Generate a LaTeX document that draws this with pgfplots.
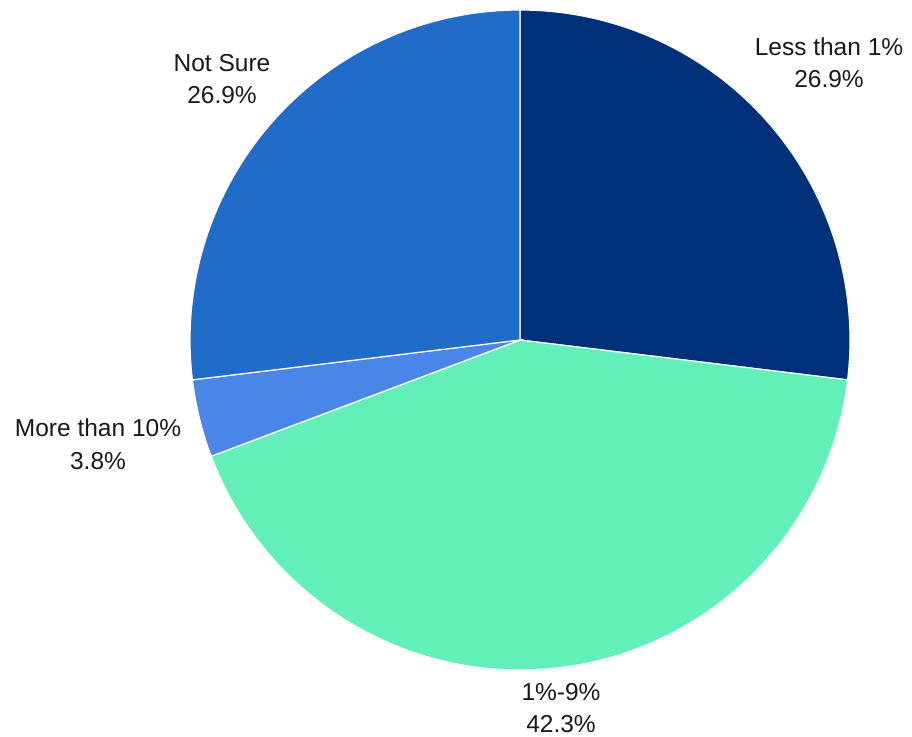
\documentclass[border=0pt]{standalone}
\usepackage{pgfplots}
\pgfplotsset{compat=1.18}
\usepackage{fontspec}
\setmainfont{Liberation Sans}
\definecolor{cLess}{RGB}{0,48,122}
\definecolor{cMid}{RGB}{98,240,184}
\definecolor{cMore}{RGB}{74,134,232}
\definecolor{cNot}{RGB}{33,108,200}
\definecolor{txt}{RGB}{25,25,25}
\tikzset{lbl/.style={anchor=base, inner sep=0pt, text=txt, font=\fontsize{24.5}{30}\selectfont}}
% slice values (percent), clockwise from 12 o'clock
\def\vA{26.9}% Less than 1%
\def\vB{42.3}% 1%-9%
\def\vC{3.8}%  More than 10%
\def\vD{26.9}% Not Sure
\pgfmathsetmacro{\tot}{\vA+\vB+\vC+\vD}
\pgfmathsetmacro{\aO}{90}
\pgfmathsetmacro{\aA}{90-360*\vA/\tot}
\pgfmathsetmacro{\aB}{\aA-360*\vB/\tot}
\pgfmathsetmacro{\aC}{\aB-360*\vC/\tot}
\pgfmathsetmacro{\aD}{-270}
\def\cx{520}\def\cy{396}\def\R{330}
\begin{document}
\begin{tikzpicture}
\begin{axis}[
  width=912pt, height=736pt, scale only axis,
  xmin=0, xmax=912, ymin=0, ymax=736,
  hide axis, clip=false,
  every axis plot/.append style={draw=white, line width=1.2pt, samples=120},
]
\path (axis cs:0,0) rectangle (axis cs:912,736);
\addplot[fill=cLess, domain=\aA:\aO, variable=\t] ({\cx+\R*cos(\t)},{\cy+\R*sin(\t)}) -- (axis cs:\cx,\cy) -- cycle;
\addplot[fill=cMid, domain=\aB:\aA, variable=\t] ({\cx+\R*cos(\t)},{\cy+\R*sin(\t)}) -- (axis cs:\cx,\cy) -- cycle;
\addplot[fill=cMore, domain=\aC:\aB, variable=\t] ({\cx+\R*cos(\t)},{\cy+\R*sin(\t)}) -- (axis cs:\cx,\cy) -- cycle;
\addplot[fill=cNot, domain=\aD:\aC, variable=\t] ({\cx+\R*cos(\t)},{\cy+\R*sin(\t)}) -- (axis cs:\cx,\cy) -- cycle;

\node[lbl] at (axis cs:829,680) {Less than 1\%};
\node[lbl] at (axis cs:829,648) {26.9\%};
\node[lbl] at (axis cs:222,664) {Not Sure};
\node[lbl] at (axis cs:222,632) {26.9\%};
\node[lbl] at (axis cs:98,299) {More than 10\%};
\node[lbl] at (axis cs:98,266) {3.8\%};
\node[lbl] at (axis cs:561,36) {1\%-9\%};
\node[lbl] at (axis cs:561,4) {42.3\%};
\end{axis}
\end{tikzpicture}
\end{document}
